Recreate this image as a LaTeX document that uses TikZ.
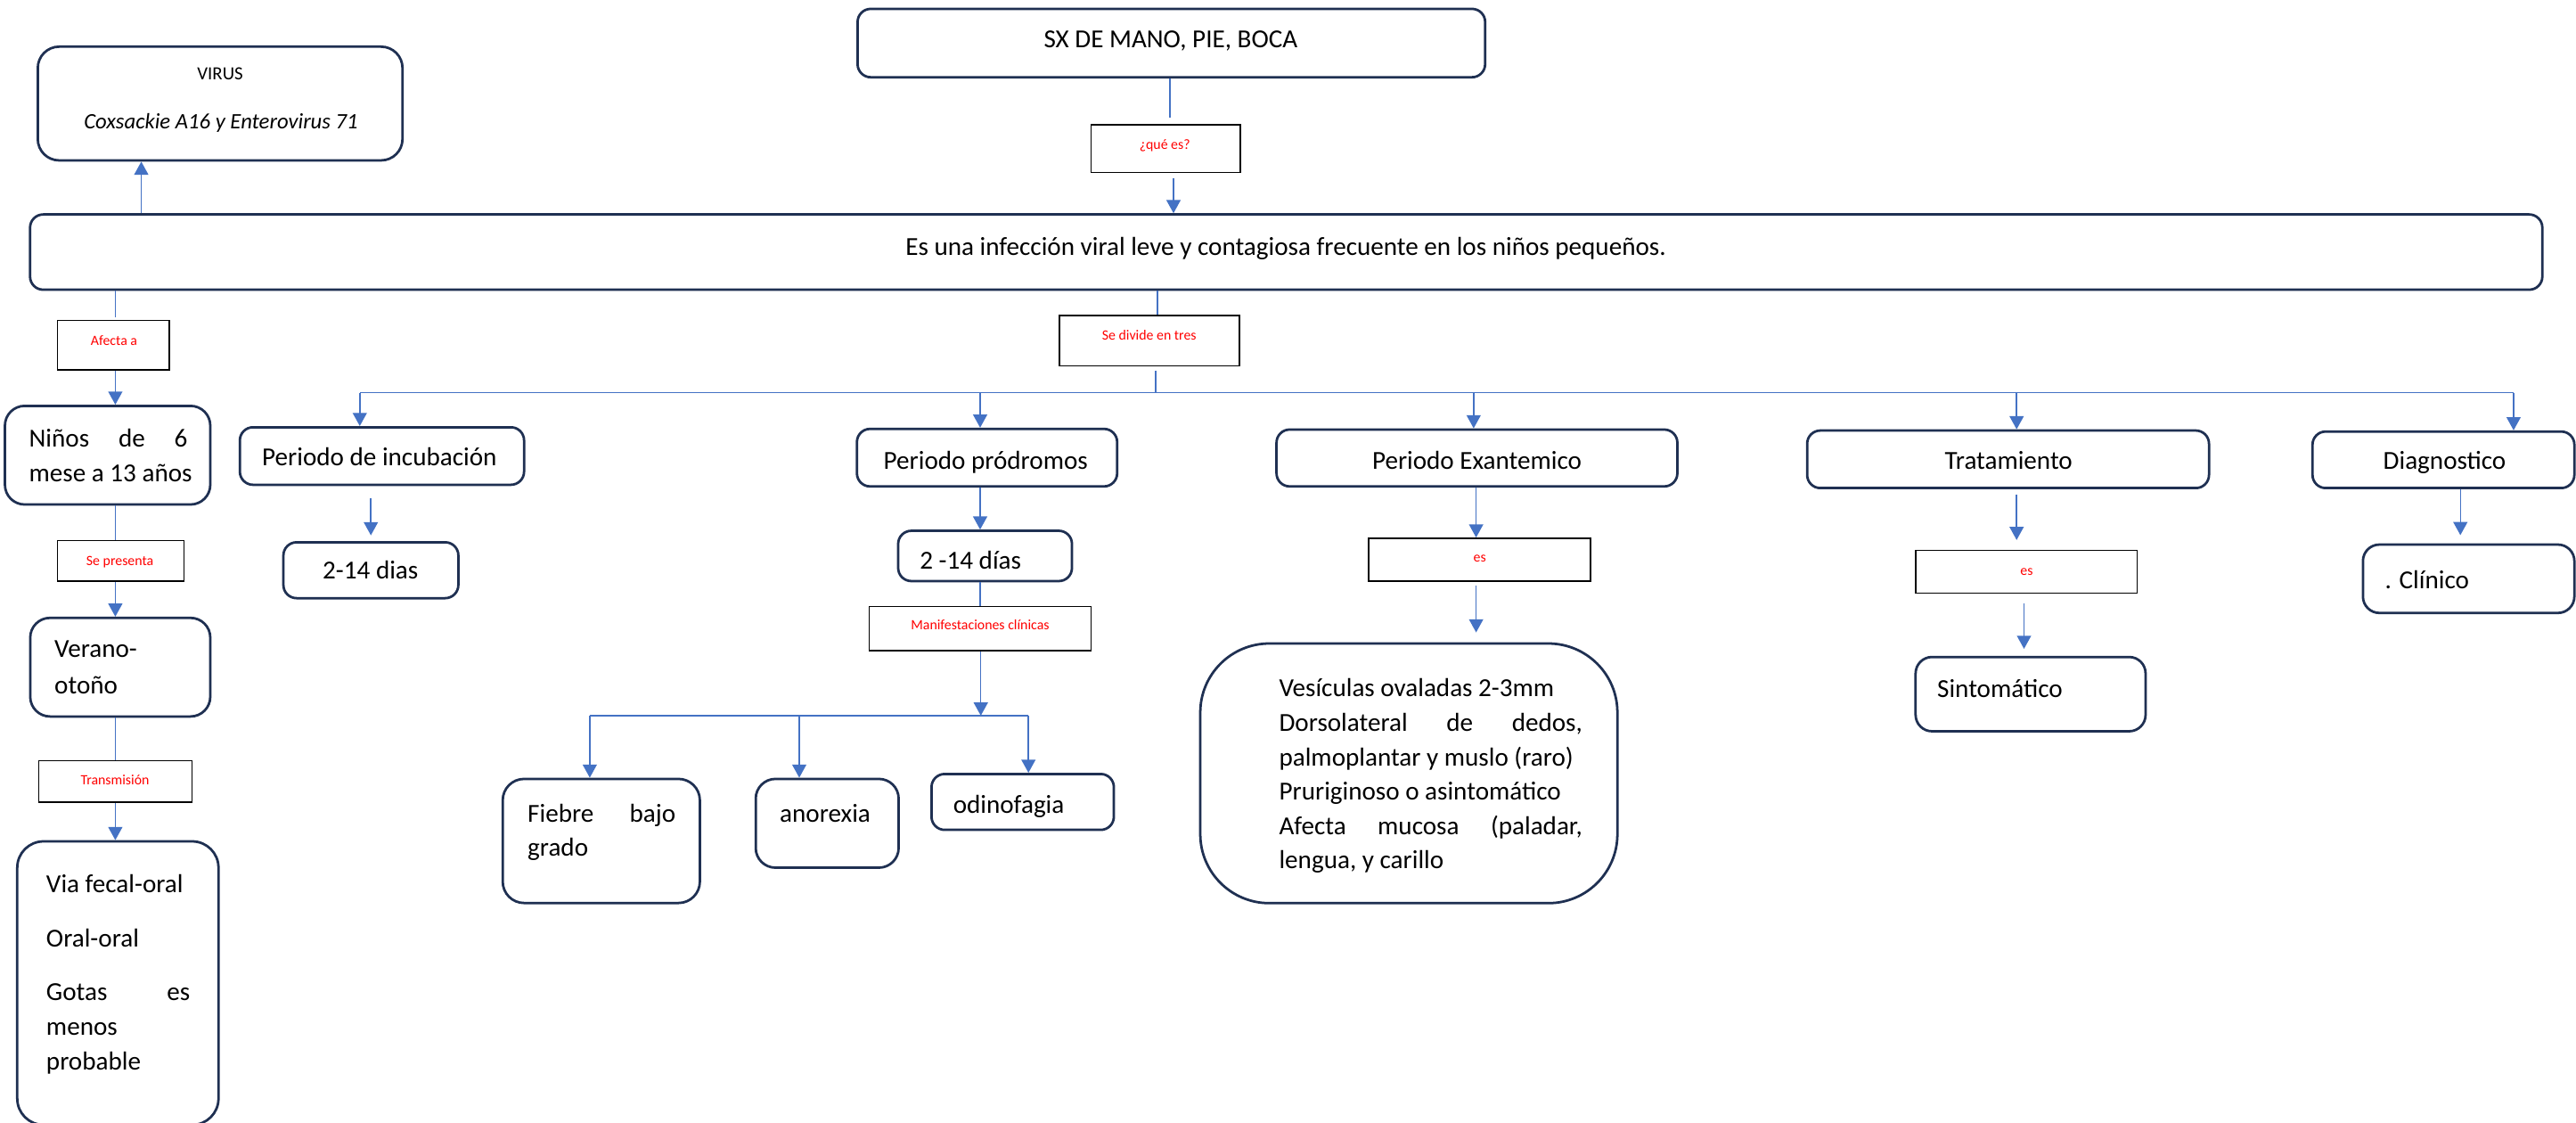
\documentclass[tikz,border=0pt]{standalone}
\usepackage{fontspec}
\setmainfont{Carlito}
\usetikzlibrary{arrows.meta}
\definecolor{navy}{HTML}{1F3052}
\definecolor{linkblue}{HTML}{4472C4}
\definecolor{labelred}{HTML}{FF0000}

\tikzset{
  box/.style={draw=navy, line width=1.5pt, rounded corners=8pt, inner sep=0pt, fill=white},
  tagbox/.style={draw=black, line width=0.8pt, inner sep=0pt, fill=white},
  conn/.style={draw=linkblue, line width=0.8pt},
  arr/.style={conn, -{Triangle[width=8.6pt,length=8pt]}},
  body/.style={inner sep=0pt, font=\fontsize{15.8}{21}\selectfont},
  tag/.style={inner sep=0pt, text=labelred, font=\fontsize{8.6}{10}\selectfont},
}

\begin{document}
\begin{tikzpicture}[x=1pt, y=-1pt]
\useasboundingbox (0,0) rectangle (1568,683);
\fill[white] (0,0) rectangle (1568,683);

% ---------- boxes ----------
\node[box, minimum width=382pt, minimum height=41.6pt] (title) at (713,26.2) {};
\node[box, rounded corners=13pt, minimum width=222pt, minimum height=69.2pt] (virus) at (134,63) {};
\node[tagbox, minimum width=91pt, minimum height=29pt] (ques) at (709.5,90.5) {};
\node[box, minimum width=1529.2pt, minimum height=45.8pt] (main) at (782.9,153.4) {};
\node[tagbox, minimum width=68pt, minimum height=30pt] (afecta) at (69,210) {};
\node[tagbox, minimum width=109.5pt, minimum height=30.7pt] (divide) at (699.75,207.35) {};

\node[box, rounded corners=12pt, minimum width=125pt, minimum height=60pt] (ninos) at (65.5,277) {};
\node[tagbox, minimum width=77pt, minimum height=24.5pt] (sepres) at (73.5,341.25) {};
\node[box, rounded corners=12pt, minimum width=109.6pt, minimum height=60pt] (verano) at (73.2,406) {};
\node[tagbox, minimum width=93.5pt, minimum height=25pt] (transm) at (70.25,475.5) {};
\node[box, rounded corners=16pt, minimum width=122.5pt, minimum height=172.5pt] (via) at (71.75,598.25) {};

\node[box, minimum width=173pt, minimum height=35pt] (incub) at (232.5,277.5) {};
\node[box, minimum width=106.5pt, minimum height=34pt] (dias1) at (225.75,347) {};

\node[box, minimum width=158.4pt, minimum height=35pt] (prod) at (600.8,278.5) {};
\node[box, minimum width=105.8pt, minimum height=30.6pt] (dias2) at (599.6,338.3) {};
\node[tagbox, minimum width=135pt, minimum height=27pt] (manif) at (596.5,382.5) {};
\node[box, rounded corners=13pt, minimum width=120pt, minimum height=75.5pt] (fiebre) at (366,511.75) {};
\node[box, rounded corners=12pt, minimum width=87pt, minimum height=54pt] (anorexia) at (503.5,501) {};
\node[box, minimum width=111pt, minimum height=34pt] (odino) at (622.5,488) {};

\node[box, minimum width=244pt, minimum height=34.6pt] (exan) at (899,278.7) {};
\node[tagbox, minimum width=135pt, minimum height=26.2pt] (es1) at (900.5,340.6) {};
\node[box, rounded corners=42pt, minimum width=253.9pt, minimum height=158pt] (ves) at (857.55,470.6) {};

\node[box, minimum width=244.6pt, minimum height=35pt] (trat) at (1222.3,279.5) {};
\node[tagbox, minimum width=134.8pt, minimum height=26pt] (es2) at (1233.4,348) {};
\node[box, rounded corners=10pt, minimum width=140pt, minimum height=45.2pt] (sinto) at (1236,422.4) {};

\node[box, minimum width=159.4pt, minimum height=34.4pt] (diag) at (1487.3,279.8) {};
\node[box, rounded corners=10pt, minimum width=128.7pt, minimum height=41.6pt] (clin) at (1502.65,352.2) {};

% ---------- texts ----------
\node[body, anchor=base] (tTitle) at (712.6,29.1) {SX DE MANO, PIE, BOCA};
\node[inner sep=0pt, anchor=base, font=\fontsize{11.3}{13}\selectfont] (tVirus) at (134,48.6) {VIRUS};
\node[inner sep=0pt, anchor=base, font=\fontsize{13.4}{16}\selectfont\itshape] (tCox) at (134.5,78.5) {Coxsackie A16 y Enterovirus 71};
\node[tag, anchor=base] (tQues) at (709,91) {¿qué es?};
\node[body, anchor=base] (tMain) at (782.7,155.5) {Es una infección viral leve y contagiosa frecuente en los niños pequeños.};
\node[tag, anchor=base] (tAfecta) at (69.4,210) {Afecta a};
\node[tag, anchor=base] (tDivide) at (699.5,207) {Se divide en tres};

\node[body, anchor=base west] (tNin1) at (17.5,272) {\makebox[96.5pt][s]{Niños de 6}};
\node[body, anchor=base west] (tNin2) at (17.5,293) {mese a 13 años};
\node[tag, anchor=base] (tSepres) at (73,344) {Se presenta};
\node[body, anchor=base west] (tVer1) at (33,400) {Verano-};
\node[body, anchor=base west] (tVer2) at (33,422) {otoño};
\node[tag, anchor=base] (tTransm) at (70,477.5) {Transmisión};
\node[body, anchor=base west] (tVia1) at (28,543) {Via fecal-oral};
\node[body, anchor=base west] (tVia2) at (28,576) {Oral-oral};
\node[body, anchor=base west] (tVia3) at (28,609) {\makebox[87.5pt][s]{Gotas es}};
\node[body, anchor=base west] (tVia4) at (28,630) {menos};
\node[body, anchor=base west] (tVia5) at (28,651) {probable};

\node[body, anchor=base] (tIncub) at (231,283.5) {Periodo de incubación};
\node[body, anchor=base] (tDias1) at (225.5,352) {2-14 dias};

\node[body, anchor=base] (tProd) at (600,285.5) {Periodo pródromos};
\node[body, anchor=base west] (tDias2) at (559.7,346.5) {2 -14 días};
\node[tag, anchor=base] (tManif) at (596.6,383) {Manifestaciones clínicas};
\node[body, anchor=base west] (tFie1) at (321,500.6) {\makebox[90pt][s]{Fiebre bajo}};
\node[body, anchor=base west] (tFie2) at (321,521) {grado};
\node[body, anchor=base west] (tAnor) at (474.5,500.5) {anorexia};
\node[body, anchor=base west] (tOdin) at (580,495) {odinofagia};

\node[body, anchor=base] (tExan) at (899,285.5) {Periodo Exantemico};
\node[tag, anchor=base] (tEs1) at (900.7,342) {es};
\node[body, anchor=base west] (tVes1) at (778.4,423.7) {Vesículas ovaladas 2-3mm};
\node[body, anchor=base west] (tVes2) at (778.4,445) {\makebox[184.6pt][s]{Dorsolateral de dedos,}};
\node[body, anchor=base west] (tVes3) at (778.4,466) {palmoplantar y muslo (raro)};
\node[body, anchor=base west] (tVes4) at (778.4,487) {Pruriginoso o asintomático};
\node[body, anchor=base west] (tVes5) at (778.4,508) {\makebox[184.6pt][s]{Afecta mucosa (paladar,}};
\node[body, anchor=base west] (tVes6) at (778.4,528.5) {lengua, y carillo};

\node[body, anchor=base] (tTrat) at (1222.6,285.5) {Tratamiento};
\node[tag, anchor=base] (tEs2) at (1233.6,350) {es};
\node[body, anchor=base west] (tSinto) at (1179,424.5) {Sintomático};

\node[body, anchor=base] (tDiag) at (1488,285.5) {Diagnostico};
\node[body, anchor=base west] (tClin) at (1451.5,358) {. Clínico};

% ---------- connectors: top ----------
\draw[conn] ([xshift=-1pt]title.south) -- ([xshift=-1pt,yshift=4pt]title.south |- ques.north);
\draw[arr, shorten <=3pt] ([xshift=4.8pt]ques.south) -- ([xshift=4.8pt]ques.south |- main.north);
\draw[arr] ([xshift=-48pt]virus.south |- main.north) -- ([xshift=-48pt]virus.south);

% ---------- left column ----------
\coordinate (lx) at (70.2,0);
\draw[conn] (main.south -| lx) -- ([yshift=1.5pt]afecta.north -| lx);
\draw[arr] (afecta.south -| lx) -- (ninos.north -| lx);
\draw[conn] (ninos.south -| lx) -- (sepres.north -| lx);
\draw[arr] (sepres.south -| lx) -- (verano.north -| lx);
\draw[conn] (verano.south -| lx) -- (transm.north -| lx);
\draw[arr] (transm.south -| lx) -- (via.north -| lx);

% ---------- main branch ----------
\coordinate (bra) at (703.5,239);
\draw[conn] ([xshift=4.75pt]divide.north |- main.south) -- ([xshift=4.75pt]divide.north);
\draw[conn] ([yshift=-2.3pt]divide.south -| bra) -- (bra);
\draw[conn] ([xshift=-13.5pt]incub.north |- bra) -- ([xshift=42.7pt]diag.north |- bra);
\draw[arr] ([xshift=-13.5pt]incub.north |- bra) -- ([xshift=-13.5pt]incub.north);
\draw[arr] ([xshift=-4.2pt]prod.north |- bra) -- ([xshift=-4.2pt]prod.north);
\draw[arr] ([xshift=-2pt]exan.north |- bra) -- ([xshift=-2pt]exan.north);
\draw[arr] ([xshift=5.2pt]trat.north |- bra) -- ([xshift=5.2pt]trat.north);
\draw[arr] ([xshift=42.7pt]diag.north |- bra) -- ([xshift=42.7pt]diag.north);

% ---------- incubation ----------
\draw[arr] ([yshift=-7.5pt]incub.south -| dias1.north) -- ([yshift=3.5pt]dias1.north);

% ---------- prodromal ----------
\draw[arr] ([xshift=-4.2pt]prod.south) -- ([xshift=-4.2pt]prod.south |- dias2.north);
\draw[conn] ([xshift=-3pt]dias2.south) -- ([xshift=-3pt]dias2.south |- manif.north);
\coordinate (brb) at (597,435.5);
\draw[arr] (manif.south -| brb) -- (brb);
\draw[conn] ([xshift=-7pt]fiebre.north |- brb) -- ([xshift=3.5pt]odino.north |- brb);
\draw[arr] ([xshift=-7pt]fiebre.north |- brb) -- ([xshift=-7pt]fiebre.north);
\draw[arr] ([xshift=-17pt]anorexia.north |- brb) -- ([xshift=-17pt]anorexia.north);
\draw[arr] ([xshift=3.5pt]odino.north |- brb) -- ([xshift=3.5pt]odino.north);

% ---------- exanthematic ----------
\draw[arr] ([xshift=-0.5pt]exan.south) -- ([xshift=-0.5pt]exan.south |- es1.north);
\draw[arr] ([xshift=-2pt,yshift=-2.3pt]es1.south) -- ([xshift=-2pt,yshift=6pt]es1.south |- ves.north);

% ---------- treatment ----------
\draw[arr] ([xshift=5.2pt,yshift=-3pt]trat.south) -- ([xshift=5.2pt,yshift=6pt]trat.south |- es2.north);
\draw[arr] ([xshift=-1.4pt,yshift=-5.7pt]es2.south) -- ([xshift=-1.4pt,yshift=4.2pt]es2.south |- sinto.north);

% ---------- diagnosis ----------
\draw[arr] ([xshift=10.3pt]diag.south) -- ([xshift=10.3pt,yshift=5pt]diag.south |- clin.north);
\end{tikzpicture}
\end{document}
